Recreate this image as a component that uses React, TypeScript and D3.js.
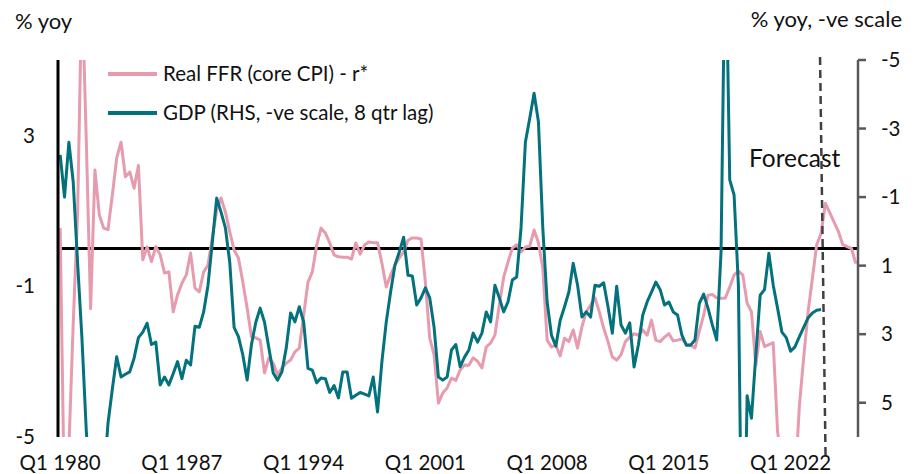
import React from "react";
import * as d3 from "d3";

// ---- Data ----
const startYear = 1980;
const nQuarters = 184; // Q1 1980 .. Q4 2025
const quarters: string[] = Array.from({ length: nQuarters }, (_, i) => `Q${(i % 4) + 1} ${startYear + Math.floor(i / 4)}`);
const xTickLabels = ["Q1 1980", "Q1 1987", "Q1 1994", "Q1 2001", "Q1 2008", "Q1 2015", "Q1 2022"];
const leftTicks = [-5, -1, 3];
const rightTicks = [-5, -3, -1, 1, 3, 5];
const forecastLabel = "Forecast";
const forecastQuarter = "Q4 2023";

// Real FFR (core CPI) - r*  (left axis)
const realFFR: number[] = [
  0.54, -7.0, -5.3, -2.0, 0.9, 7.0, 2.9, -1.6, 2.08, 0.89,
  0.54, 0.5, 1.42, 2.4, 2.82, 1.9, 2.03, 1.6, 2.2, -0.3,
  0.04, -0.35, 0.05, -0.17, -0.65, -0.62, -1.68, -1.23, -0.92, -0.7,
  -0.12, -1.05, -1.15, -0.62, -0.44, 0.3, 1.02, 1.34, 0.97, 0.44,
  -0.04, -0.25, -0.88, -1.58, -2.35, -2.37, -2.43, -3.3, -2.9, -3.04,
  -3.35, -3.17, -3.04, -2.96, -2.74, -2.64, -1.77, -0.89, -0.62, 0.09,
  0.54, 0.41, 0.15, -0.17, -0.22, -0.23, -0.23, -0.28, 0.15, -0.15,
  0.09, 0.17, 0.15, 0.15, -0.39, -1.02, -0.7, -0.44, -0.25, -0.09,
  0.22, 0.28, 0.28, 0.25, -0.89, -2.38, -2.82, -4.1, -3.83, -3.7,
  -3.44, -3.5, -3.22, -3.09, -3.1, -2.9, -2.99, -3.17, -2.61, -2.51,
  -2.29, -1.5, -0.76, -0.36, 0.01, 0.1, -0.09, 0.04, 0.06, 0.49,
  0.15, -0.52, -2.43, -2.61, -2.56, -2.85, -2.38, -2.47, -2.16, -2.64,
  -2.08, -1.68, -1.5, -1.31, -1.68, -2.11, -2.47, -2.88, -2.96, -2.82,
  -2.47, -2.35, -2.26, -2.3, -2.16, -2.3, -1.9, -2.43, -2.47, -2.35,
  -2.26, -2.45, -2.43, -2.4, -2.53, -2.56, -2.64, -2.2, -1.77, -1.24,
  -1.22, -1.31, -1.32, -1.31, -1.02, -0.7, -0.6, -0.7, -1.45, -1.68,
  -3.1, -2.2, -2.6, -2.55, -2.5, -4.85, -5.8, -6.8, -7.2, -6.3,
  -4.2, -2.9, -1.7, -0.8, 0.1, 0.4, 1.2, 0.95, 0.7, 0.45,
  0.1, 0.05, 0.0, -0.4,
];

// GDP % yoy, 8 qtr lag (right axis, reversed)
const gdpLag: number[] = [
  -2.23, -1.0, -2.6, -1.44, 0.9, 3.1, 5.8, 7.8, 8.6, 8.4,
  7.3, 5.6, 4.6, 3.66, 4.25, 4.17, 4.1, 3.7, 3.1, 2.94,
  2.68, 3.3, 3.23, 4.48, 4.25, 4.48, 4.15, 3.8, 4.3, 3.76,
  3.9, 2.77, 2.8, 2.35, 1.57, 0.31, -0.97, -0.56, -0.1, 0.9,
  2.8, 3.07, 3.6, 4.34, 3.3, 2.65, 2.24, 2.65, 3.4, 4.13,
  4.34, 4.1, 3.4, 2.38, 2.64, 2.2, 2.64, 4.0, 4.05, 4.42,
  4.28, 4.3, 4.7, 4.5, 4.86, 4.1, 4.1, 4.87, 4.78, 4.7,
  4.75, 4.8, 4.25, 5.27, 3.8, 2.64, 1.77, 0.98, 0.6, 0.17,
  1.28, 1.3, 2.15, 1.94, 1.65, 1.94, 2.8, 4.25, 4.34, 4.25,
  3.46, 3.3, 3.95, 3.67, 3.46, 2.97, 3.23, 2.97, 2.35, 2.64,
  1.57, 1.94, 2.35, 2.06, 1.42, 1.33, -0.1, -2.6, -3.3, -4.03,
  -3.2, -0.1, 2.06, 3.03, 3.35, 2.6, 2.2, 1.77, 0.93, 1.57,
  2.5, 2.35, 2.5, 1.57, 1.6, 1.5, 2.2, 2.97, 1.6, 2.73,
  2.97, 2.67, 3.96, 3.3, 2.44, 2.06, 1.77, 1.48, 1.7, 2.15,
  2.06, 2.35, 2.44, 3.03, 3.32, 3.32, 3.17, 2.1, 1.83, 2.24,
  2.73, 3.17, 0.6, -9.1, -1.5, -1.06, 1.6, 12.0, 4.8, 5.45,
  3.6, 1.86, 1.7, 0.64, 1.57, 2.24, 2.94, 3.1, 3.5, 3.37,
  3.08, 2.8, 2.53, 2.38, 2.3, 2.28,
];

const PINK = "#E69BAF";
const TEAL = "#04727C";
const FONT = "Lato, 'Open Sans', sans-serif";

export default function App() {
  const W = 919, H = 474;
  const plot = { left: 58, right: 858, top: 60, bottom: 437 };

  const x = d3.scaleBand<string>().domain(quarters).range([plot.left, plot.right]);
  const xc = (q: string) => (x(q) as number) + x.bandwidth() / 2;
  const yL = d3.scaleLinear().domain([-5, 5]).range([plot.bottom, plot.top]);
  const yR = d3.scaleLinear().domain([-5, 6]).range([plot.top, plot.bottom]);

  const pinkPath = d3.line<number>().x((_, i) => xc(quarters[i])).y((d) => yL(d))(realFFR) || "";
  const tealPath = d3.line<number>().x((_, i) => xc(quarters[i])).y((d) => yR(d))(gdpLag) || "";

  const fx = xc(forecastQuarter);
  const tickFs = 20.5;

  return (
    <svg width={W} height={H} style={{ position: "absolute", left: 0, top: 0, background: "#fff" }} fontFamily={FONT}>
      <defs>
        <clipPath id="plotclip">
          <rect x={plot.left} y={plot.top} width={plot.right - plot.left} height={plot.bottom - plot.top} />
        </clipPath>
      </defs>

      {/* axis titles */}
      <text x={15} y={29} fontSize={22} fill="#111">% yoy</text>
      <text x={902} y={27} fontSize={22} fill="#111" textAnchor="end">% yoy, -ve scale</text>

      {/* zero line */}
      <line x1={plot.left} x2={plot.right} y1={yL(0)} y2={yL(0)} stroke="#000" strokeWidth={3} />

      {/* series */}
      <g clipPath="url(#plotclip)">
        <path d={pinkPath} fill="none" stroke={PINK} strokeWidth={3} strokeLinejoin="round" />
        <path d={tealPath} fill="none" stroke={TEAL} strokeWidth={3} strokeLinejoin="round" />
      </g>

      {/* left axis */}
      <line x1={plot.left} x2={plot.left} y1={plot.top} y2={plot.bottom} stroke="#000" strokeWidth={3} />
      {leftTicks.map((t) => (
        <text key={t} x={35} y={yL(t)} dy="0.35em" fontSize={tickFs} textAnchor="end" fill="#111">{t}</text>
      ))}

      {/* right axis */}
      <line x1={plot.right} x2={plot.right} y1={plot.top} y2={plot.bottom} stroke="#595959" strokeWidth={2.5} />
      {rightTicks.map((t) => (
        <g key={t}>
          <line x1={plot.right} x2={plot.right + 8} y1={yR(t)} y2={yR(t)} stroke="#595959" strokeWidth={2.5} />
          <text x={881} y={yR(t)} dy="0.35em" fontSize={tickFs} fill="#111">{t}</text>
        </g>
      ))}

      {/* x labels */}
      {xTickLabels.map((q) => (
        <text key={q} x={xc(q)} y={470} fontSize={tickFs} textAnchor="middle" fill="#111">{q}</text>
      ))}

      {/* forecast */}
      <text x={749} y={167} fontSize={24.5} fill="#111">{forecastLabel}</text>
      <line x1={fx - 1} x2={fx + 4.5} y1={57} y2={456} stroke="#404040" strokeWidth={2.5} strokeDasharray="8,5" />

      {/* legend */}
      <line x1={108} x2={157} y1={74} y2={74} stroke={PINK} strokeWidth={4} />
      <text x={163} y={81} fontSize={tickFs} fill="#111">Real FFR (core CPI) - r*</text>
      <line x1={108} x2={157} y1={113} y2={113} stroke={TEAL} strokeWidth={4} />
      <text x={163} y={120} fontSize={tickFs} fill="#111">GDP (RHS, -ve scale, 8 qtr lag)</text>
    </svg>
  );
}
